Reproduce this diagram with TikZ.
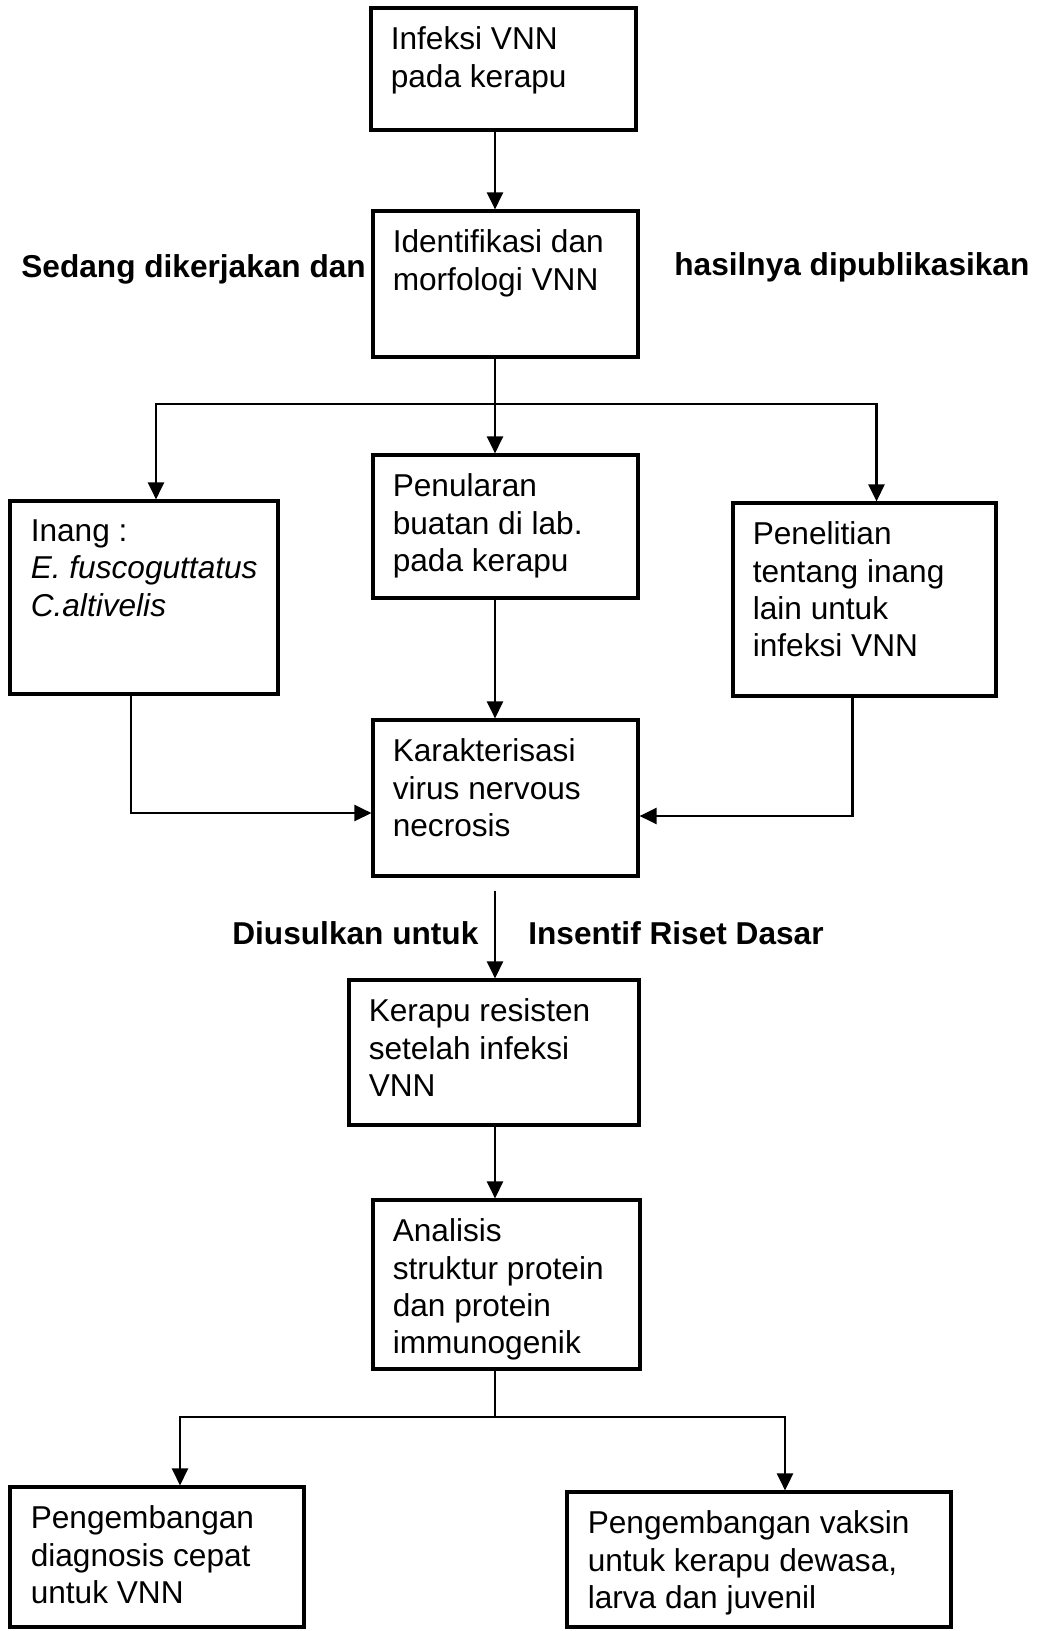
\documentclass[tikz,border=0pt]{standalone}
\usepackage{fontspec}
\setmainfont{Liberation Sans}
\usetikzlibrary{arrows.meta,calc,fit}
\begin{document}
\begin{tikzpicture}[x=0.02cm,y=-0.02cm,
    box/.style={draw, line width=1.8pt, inner sep=0pt},
    txt/.style={anchor=north west, inner sep=0pt, align=left, font=\fontsize{18}{21.3}\selectfont},
    lbl/.style={anchor=base west, inner sep=0pt, font=\fontsize{18}{21.3}\selectfont\bfseries},
    link/.style={line width=1.5pt},
    arr/.style={link, -{Triangle[length=0.34cm,width=0.32cm]}}]
    \useasboundingbox (0,0) rectangle (1037,1631);
    \node[box, fit={(371,8) (636,130)}] (infeksi) {};
    \node[box, fit={(373,211) (638,357)}] (ident) {};
    \node[box, fit={(10,501) (278,694)}] (inang) {};
    \node[box, fit={(373,455) (638,598)}] (penularan) {};
    \node[box, fit={(733,503) (996,696)}] (penelitian) {};
    \node[box, fit={(373,720) (638,876)}] (karak) {};
    \node[box, fit={(349,980) (639,1125)}] (kerapu) {};
    \node[box, fit={(373,1200) (640,1369)}] (analisis) {};
    \node[box, fit={(10,1487) (304,1627)}] (diagnosis) {};
    \node[box, fit={(567,1492) (951,1627)}] (vaksin) {};
    \node[txt] (tinfeksi) at ($(infeksi.north west)+(21,20)$) {Infeksi VNN\\pada kerapu};
    \node[txt] (tident) at ($(ident.north west)+(21,20)$) {Identifikasi dan\\morfologi VNN};
    \node[txt] (tinang) at ($(inang.north west)+(22,20)$) {Inang :\\\textit{E. fuscoguttatus}\\\textit{C.altivelis}};
    \node[txt] (tpenularan) at ($(penularan.north west)+(21,20)$) {Penularan\\buatan di lab.\\pada kerapu};
    \node[txt] (tpenelitian) at ($(penelitian.north west)+(21,20)$) {Penelitian\\tentang inang\\lain untuk\\infeksi VNN};
    \node[txt] (tkarak) at ($(karak.north west)+(21,20)$) {Karakterisasi\\virus nervous\\necrosis};
    \node[txt] (tkerapu) at ($(kerapu.north west)+(21,20)$) {Kerapu resisten\\setelah infeksi\\VNN};
    \node[txt] (tanalisis) at ($(analisis.north west)+(21,20)$) {Analisis\\struktur protein\\dan protein\\immunogenik};
    \node[txt] (tdiagnosis) at ($(diagnosis.north west)+(22,20)$) {Pengembangan\\diagnosis cepat\\untuk VNN};
    \node[txt] (tvaksin) at ($(vaksin.north west)+(22,20)$) {Pengembangan vaksin\\untuk kerapu dewasa,\\larva dan juvenil};
    \node[lbl] (sedang) at (21,278) {Sedang dikerjakan dan};
    \node[lbl] (hasil) at (674,276) {hasilnya dipublikasikan};
    \node[lbl] (usul) at (232,944) {Diusulkan untuk};
    \node[lbl] (insentif) at (528,944) {Insentif Riset Dasar};
    \coordinate (spine) at (495,0);
    \coordinate (fork) at (495,404);
    \coordinate (fork2) at (495,1417);
    \draw[arr] (infeksi.south -| spine) -- (ident.north -| spine);
    \draw[link] (ident.south -| spine) -- (fork);
    \draw[arr] (fork) -- (penularan.north -| fork);
    \draw[arr] (fork) -| ($(inang.north)+(12,0)$);
    \draw[arr] (fork) -| ($(penelitian.north)+(12,0)$);
    \draw[arr] ($(inang.south)+(-13,0)$) |- ($(karak.west)+(0,15)$);
    \draw[arr] ($(penelitian.south)+(-12,0)$) |- ($(karak.east)+(0,18)$);
    \draw[arr] (penularan.south -| spine) -- (karak.north -| spine);
    \draw[arr, shorten <=0.26cm] (karak.south -| spine) -- (kerapu.north -| spine);
    \draw[arr] (kerapu.south -| spine) -- (analisis.north -| spine);
    \draw[link] (analisis.south -| spine) -- (fork2);
    \draw[arr] (fork2) -| ($(diagnosis.north)+(23,0)$);
    \draw[arr] (fork2) -| ($(vaksin.north)+(26,0)$);
\end{tikzpicture}
\end{document}
